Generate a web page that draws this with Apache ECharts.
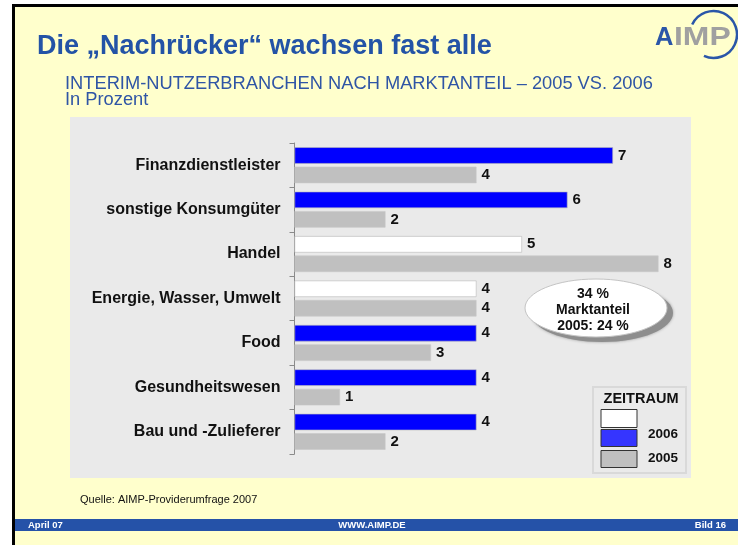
<!DOCTYPE html>
<html>
<head>
<meta charset="utf-8">
<title>Die „Nachrücker“ wachsen fast alle</title>
<script src="https://cdn.jsdelivr.net/npm/echarts@6/dist/echarts.min.js"></script>
<style>
  html, body { margin: 0; padding: 0; background: #fff; }
  #chart { width: 738px; height: 545px; }
</style>
</head>
<body>
<div id="chart"></div>
<script>
// Branchen von oben nach unten, Werte in Prozent
const categories = ['Finanzdienstleister', 'sonstige Konsumgüter', 'Handel', 'Energie, Wasser, Umwelt', 'Food', 'Gesundheitswesen', 'Bau und -Zulieferer']
const values2006 = [7, 6, 5, 4, 4, 4, 4]
const values2005 = [4, 2, 8, 4, 3, 1, 2]
const seriesNames = ['2006', '2005']
const ellipseLines = ['34 %', 'Marktanteil', '2005: 24 %']

// Branchen, deren 2006-Balken weiss statt blau sind
const whiteRows = [2, 3]

const FONT = 'Arial, "Liberation Sans", sans-serif'

const chart = echarts.init(document.getElementById('chart'))

function txt (text, x, y, font, fill, align, scaleX) {
  return {
    type: 'text',
    z: 20,
    x: x,
    y: y,
    scaleX: scaleX || 1,
    style: {
      text: text, x: 0, y: 0, font: font, fill: fill,
      align: align || 'left', textAlign: align || 'left',
      verticalAlign: 'middle', textVerticalAlign: 'middle'
    }
  }
}

const graphics = [
  // Folienrahmen und Hintergrund
  { type: 'rect', z: -20, shape: { x: 12, y: 4, width: 726, height: 541 }, style: { fill: '#000' } },
  { type: 'rect', z: -19, shape: { x: 15, y: 7, width: 723, height: 538 }, style: { fill: '#ffffcc' } },
  { type: 'rect', z: -18, shape: { x: 70, y: 117, width: 621, height: 361 }, style: { fill: '#eaeaea' } },
  // Fusszeile
  { type: 'rect', z: -18, shape: { x: 15, y: 519, width: 723, height: 12 }, style: { fill: '#2552a8' } },
  txt('April 07', 28, 525.5, 'bold 9.5px ' + FONT, '#fff'),
  txt('WWW.AIMP.DE', 372, 525.5, 'bold 9.5px ' + FONT, '#fff', 'center'),
  txt('Bild 16', 726, 525.5, 'bold 9.5px ' + FONT, '#fff', 'right'),
  txt('Quelle: AIMP-Providerumfrage 2007', 80, 500, '11px ' + FONT, '#111'),
  // Titel
  txt('Die „Nachrücker“ wachsen fast alle', 37, 47, 'bold 27px ' + FONT, '#2353a6'),
  txt('INTERIM-NUTZERBRANCHEN NACH MARKTANTEIL – 2005 VS. 2006', 65, 84, '18.3px ' + FONT, '#2f55a5'),
  txt('In Prozent', 65, 100, '18.3px ' + FONT, '#2f55a5'),
  // Logo
  {
    type: 'arc', z: 20,
    shape: { cx: 713.5, cy: 34.5, r: 23.5, startAngle: -155 * Math.PI / 180, endAngle: 114 * Math.PI / 180, clockwise: true },
    style: { stroke: '#2a56a8', lineWidth: 2.5, fill: null }
  },
  txt('A', 655, 38, 'bold 25.5px ' + FONT, '#2a56a8'),
  txt('IMP', 674, 38, 'bold 25.5px ' + FONT, '#a0a0a0', 'left', 1.25),
  // Ellipse
  { type: 'ellipse', z: 9, shape: { cx: 602, cy: 313, rx: 71, ry: 29 }, style: { fill: '#8e8e8e', shadowBlur: 3, shadowColor: '#999' } },
  { type: 'ellipse', z: 10, shape: { cx: 596, cy: 308, rx: 71, ry: 29 }, style: { fill: '#fff', stroke: '#c4c4c4', lineWidth: 1 } },
  // Legende
  { type: 'rect', z: 10, shape: { x: 593, y: 387, width: 93, height: 86 }, style: { fill: '#eaeaea', stroke: '#d9d9d9', lineWidth: 2 } },
  txt('ZEITRAUM', 641, 398.5, 'bold 14.5px ' + FONT, '#111', 'center'),
  { type: 'rect', z: 11, shape: { x: 601, y: 409.5, width: 36, height: 18 }, style: { fill: '#fff', stroke: '#333', lineWidth: 1 } },
  { type: 'rect', z: 11, shape: { x: 601, y: 429.5, width: 36, height: 17 }, style: { fill: '#3535ff', stroke: '#333', lineWidth: 1 } },
  { type: 'rect', z: 11, shape: { x: 601, y: 450.5, width: 36, height: 17 }, style: { fill: '#c0c0c0', stroke: '#333', lineWidth: 1 } },
  txt(seriesNames[0], 663, 434, 'bold 13.5px ' + FONT, '#111', 'center'),
  txt(seriesNames[1], 663, 458.5, 'bold 13.5px ' + FONT, '#111', 'center')
]

ellipseLines.forEach(function (line, i) {
  graphics.push(txt(line, 593, 294 + i * 16, 'bold 14px ' + FONT, '#111', 'center'))
})

const valueLabel = {
  show: true,
  position: 'right',
  distance: 5,
  color: '#111',
  fontFamily: FONT,
  fontWeight: 'bold',
  fontSize: 15
}

const option = {
  backgroundColor: '#fff',
  animation: false,
  grid: { left: 294.5, top: 143, width: 364, height: 311, containLabel: false },
  xAxis: { type: 'value', min: 0, max: 8, show: false },
  yAxis: {
    type: 'category',
    data: categories,
    inverse: true,
    axisLine: { lineStyle: { color: '#8a8a8a', width: 1 } },
    axisTick: { show: true, length: 5, lineStyle: { color: '#8a8a8a' } },
    axisLabel: { margin: 14, color: '#111', fontFamily: FONT, fontWeight: 'bold', fontSize: 16 },
    splitLine: { show: false }
  },
  series: [
    {
      name: seriesNames[0],
      type: 'bar',
      data: values2006,
      barWidth: 16.5,
      barGap: '18%',
      label: valueLabel,
      itemStyle: {
        color: function (p) { return whiteRows.indexOf(p.dataIndex) >= 0 ? '#ffffff' : '#0000ff' },
        borderColor: '#b8b8b8',
        borderWidth: 0.6
      }
    },
    {
      name: seriesNames[1],
      type: 'bar',
      data: values2005,
      barWidth: 16.5,
      label: valueLabel,
      itemStyle: { color: '#c0c0c0', borderColor: '#c8c8c8', borderWidth: 0.6 }
    }
  ],
  graphic: { elements: graphics }
}

chart.setOption(option)
</script>
</body>
</html>
